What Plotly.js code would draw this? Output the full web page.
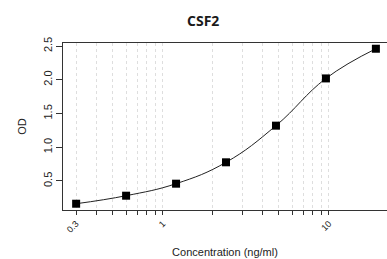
<!DOCTYPE html>
<html><head><meta charset="utf-8">
<script src="https://cdn.plot.ly/plotly-3.0.1.min.js"></script>
<style>body{margin:0;padding:0;background:#fff}#c{width:387px;height:259px}</style>
</head><body><div id="c"></div>
<script>
const concentration = [0.3, 0.6, 1.2, 2.4, 4.8, 9.6, 19.2];
const od = [0.163, 0.282, 0.46, 0.777, 1.32, 2.02, 2.46];
const gridVals = [0.3,0.4,0.5,0.6,0.7,0.8,0.9,1,2,3,4,5,6,7,8,9,10];
const gridLabels = ['0.3','','','','','','','1','','','','','','','','','10'];
const yTicks = [0.5,1.0,1.5,2.0,2.5];
const yLabels = ['0.5','1.0','1.5','2.0','2.5'];

const traces = [
  {x: concentration, y: od, type:'scatter', mode:'lines', line:{color:'#222', width:1, shape:'spline', smoothing:1.2}, hoverinfo:'skip'},
  {x: concentration, y: od, type:'scatter', mode:'markers', marker:{symbol:'square', size:8, color:'#000'}}
];
const layout = {
  width:387, height:259, showlegend:false,
  margin:{l:63, r:0, t:43, b:49},
  paper_bgcolor:'#fff', plot_bgcolor:'#fff',
  font:{family:'Liberation Sans, Arial, sans-serif', color:'#222', size:10},
  title:{text:'<b>CSF2</b>', x:0.525, xanchor:'center', y:0.92, yanchor:'middle', font:{family:'Open Sans, sans-serif', size:14, color:'#1a1a1a'}},
  xaxis:{type:'log', range:[Math.log10(0.25), Math.log10(22.4)], tickmode:'array', tickvals:gridVals, ticktext:gridLabels,
    tickangle:-45, ticks:'outside', ticklen:4, tickcolor:'#333', showgrid:true, gridcolor:'#dedede', griddash:'dot', gridwidth:1,
    showline:true, linecolor:'#333', linewidth:1, mirror:true, zeroline:false, tickfont:{size:9},
    title:{text:'Concentration (ng/ml)', standoff:14, font:{size:11}}},
  yaxis:{range:[0.07, 2.545], tickmode:'array', tickvals:yTicks, ticktext:yLabels, tickangle:-90,
    ticks:'outside', ticklen:6, tickcolor:'#333', showgrid:false, showline:true, linecolor:'#333', linewidth:1, zeroline:false,
    tickfont:{size:11}, title:{text:'OD', standoff:12, font:{size:11}}}
};
Plotly.newPlot('c', traces, layout, {displayModeBar:false, staticPlot:true});
</script></body></html>
